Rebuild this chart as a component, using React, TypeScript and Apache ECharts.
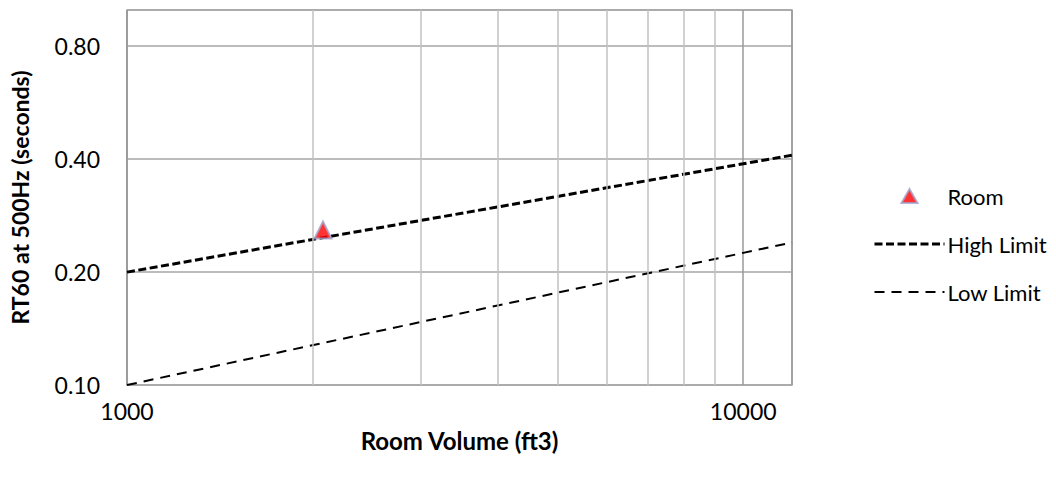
import React, { useEffect, useRef } from "react";
import * as echarts from "echarts";

// ---- data ----
const roomVolume = [2080];
const roomRT60 = [0.259];
const limitVolumes = [1000, 12000];
const highLimit = [0.2, 0.41];
const lowLimit = [0.1, 0.24];
const xMajorTicks = [1000, 10000];
const xMinorGrid = [2000, 3000, 4000, 5000, 6000, 7000, 8000, 9000];
const yTickLabels = ["0.10", "0.20", "0.40", "0.80"];

const FONT = "Lato";
const TRIANGLE_ICON = "path://M0,14 L8,0 L16,14 Z";
const HIGH_STYLE = { color: "#000", width: 3, type: [8, 3.5] };
const LOW_STYLE = { color: "#000", width: 2, type: [10, 7] };

export default function App() {
  const ref = useRef<HTMLDivElement>(null);
  useEffect(() => {
    const chart = echarts.init(ref.current!, null, { renderer: "svg" });
    const hiddenSymbol = { color: "rgba(0,0,0,0)", borderColor: "rgba(0,0,0,0)", borderWidth: 0, opacity: 0 };
    chart.setOption({
      animation: false,
      backgroundColor: "#ffffff",
      textStyle: { fontFamily: FONT },
      grid: {
        left: 125,
        top: 10,
        right: 264,
        bottom: 94,
        show: true,
        borderColor: "#a6a6a6",
        borderWidth: 1.5,
      },
      legend: {
        orient: "vertical",
        left: 868,
        top: 180,
        itemWidth: 70,
        itemHeight: 14,
        itemGap: 26,
        symbolKeepAspect: true,
        textStyle: { fontFamily: FONT, fontSize: 22, color: "#000", padding: [0, 0, 0, -2] },
        data: [
          { name: "Room", icon: TRIANGLE_ICON },
          { name: "High Limit", itemStyle: hiddenSymbol, lineStyle: HIGH_STYLE },
          { name: "Low Limit", itemStyle: hiddenSymbol, lineStyle: LOW_STYLE },
        ],
      },
      xAxis: {
        type: "log",
        logBase: 10,
        min: 1000,
        max: 12000,
        axisLine: { show: false },
        axisTick: { show: false },
        axisLabel: {
          fontFamily: FONT,
          fontSize: 23,
          color: "#000",
          margin: 14,
          formatter: (v: number) => {
            const r = Math.round(v);
            return xMajorTicks.includes(r) ? String(r) : "";
          },
        },
        splitLine: { show: true, lineStyle: { color: "#9a9a9a", width: 1.5 } },
        name: "Room Volume (ft3)",
        nameLocation: "middle",
        nameGap: 43,
        nameTextStyle: { fontFamily: FONT, fontSize: 24, fontWeight: "bold", color: "#000" },
      },
      yAxis: {
        type: "log",
        logBase: 2,
        min: 0.1,
        max: 1,
        interval: 1,
        axisLine: { show: false },
        axisTick: { show: false },
        axisLabel: {
          fontFamily: FONT,
          fontSize: 23,
          color: "#000",
          margin: 27,
          showMaxLabel: false,
          formatter: (v: number) => {
            const s = v.toFixed(2);
            return yTickLabels.includes(s) ? s : "";
          },
        },
        splitLine: { show: true, lineStyle: { color: "#a6a6a6", width: 1.5 } },
        name: "RT60 at 500Hz (seconds)",
        nameLocation: "middle",
        nameGap: 96,
        nameTextStyle: { fontFamily: FONT, fontSize: 23, fontWeight: "bold", color: "#000" },
      },
      series: [
        {
          name: "gridMinor",
          type: "line",
          data: [],
          z: 1,
          silent: true,
          markLine: {
            silent: true,
            symbol: ["none", "none"],
            label: { show: false },
            lineStyle: { color: "#c2c2c2", type: "solid", width: 1.5 },
            data: xMinorGrid.map((v) => ({ xAxis: v })),
          },
        },
        {
          name: "High Limit",
          type: "line",
          z: 3,
          symbol: "none",
          data: limitVolumes.map((x, i) => [x, highLimit[i]]),
          lineStyle: HIGH_STYLE,
          itemStyle: { color: "#000" },
        },
        {
          name: "Low Limit",
          type: "line",
          z: 3,
          symbol: "none",
          data: limitVolumes.map((x, i) => [x, lowLimit[i]]),
          lineStyle: LOW_STYLE,
          itemStyle: { color: "#000" },
        },
        {
          name: "Room",
          type: "scatter",
          z: 5,
          symbol: "triangle",
          symbolSize: 17,
          data: roomVolume.map((x, i) => [x, roomRT60[i]]),
          itemStyle: { color: "#ff0000", borderColor: "#a3a3cc", borderWidth: 2 },
        },
      ],
    });
    return () => chart.dispose();
  }, []);
  return (
    <div
      ref={ref}
      style={{ position: "fixed", left: 0, top: 0, width: 1056, height: 479, background: "#fff" }}
    />
  );
}
